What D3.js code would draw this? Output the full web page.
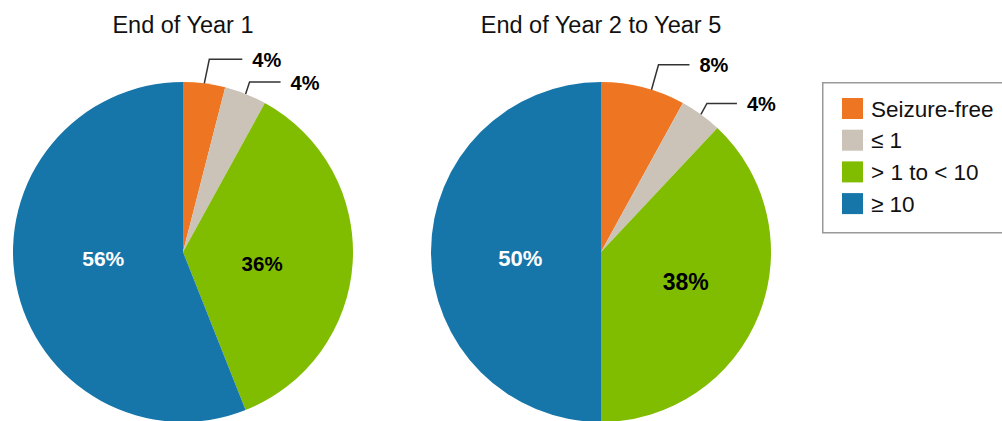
<!DOCTYPE html>
<html>
<head>
<meta charset="utf-8">
<script src="https://cdn.jsdelivr.net/npm/d3@7"></script>
<style>
  html, body { margin: 0; padding: 0; background: #fff; }
  svg { display: block; font-family: "Liberation Sans", Arial, sans-serif; }
</style>
</head>
<body>
<svg id="chart" width="1002" height="421"></svg>
<script>
// Seizure frequency categories and the share of patients in each period
const categories = ["Seizure-free", "\u2264 1", "> 1 to < 10", "\u2265 10"];
const colors = ["#EE7623", "#CBC2B8", "#80BC00", "#1776A9"];
const titles = ["End of Year 1", "End of Year 2 to Year 5"];
const year1Values = [4, 4, 36, 56];
const year2to5Values = [8, 4, 38, 50];

const svg = d3.select("#chart");
const radius = 170;
const centers = [[183, 252], [601, 252]];

// Callout styling for the two small slices in each pie
const callouts = [
  [ {frac: 0.5, elbow: [5, -24], run: 33}, {frac: 0.5, elbow: [4, -12], run: 31} ],
  [ {frac: 0.6, elbow: [7, -25], run: 31}, {frac: 0.5, elbow: [6, -11], run: 30} ]
];
// Inside-label placement: angle nudge (deg), radius, font size, colour
const insideLabels = [
  [null, null, {da: 5, r: 80, size: 20.5, fill: "#000"}, {da: 6, r: 80, size: 21, fill: "#fff"}],
  [null, null, {da: -2, r: 90, size: 23, fill: "#000"}, {da: -4, r: 81, size: 22, fill: "#fff"}]
];

const pie = d3.pie().sort(null).value(d => d);
const arc = d3.arc().innerRadius(0).outerRadius(radius);

[year1Values, year2to5Values].forEach((values, pi) => {
  const [cx, cy] = centers[pi];
  const g = svg.append("g").attr("transform", `translate(${cx},${cy})`);
  const arcs = pie(values);

  g.selectAll("path.slice")
    .data(arcs)
    .join("path")
    .attr("class", "slice")
    .attr("d", arc)
    .attr("fill", (d, i) => colors[i]);

  // Title above each pie
  svg.append("text")
    .attr("x", cx)
    .attr("y", 33)
    .attr("text-anchor", "middle")
    .attr("font-size", 23.5)
    .attr("fill", "#111")
    .text(titles[pi]);

  arcs.forEach((d, i) => {
    const label = values[i] + "%";
    if (i < 2) {
      const c = callouts[pi][i];
      const a = d.startAngle + (d.endAngle - d.startAngle) * c.frac;
      const x0 = Math.sin(a) * radius, y0 = -Math.cos(a) * radius;
      const x1 = x0 + c.elbow[0], y1 = y0 + c.elbow[1];
      const x2 = x1 + c.run;
      g.append("polyline")
        .attr("points", `${x0},${y0} ${x1},${y1} ${x2},${y1}`)
        .attr("fill", "none")
        .attr("stroke", "#333")
        .attr("stroke-width", 1.5);
      g.append("text")
        .attr("x", x2 + 10)
        .attr("y", y1)
        .attr("dy", "0.38em")
        .attr("font-size", 20)
        .attr("font-weight", "bold")
        .attr("fill", "#000")
        .text(label);
    } else {
      const s = insideLabels[pi][i];
      const a = (d.startAngle + d.endAngle) / 2 + s.da * Math.PI / 180;
      g.append("text")
        .attr("x", Math.sin(a) * s.r)
        .attr("y", -Math.cos(a) * s.r)
        .attr("dy", "0.36em")
        .attr("text-anchor", "middle")
        .attr("font-size", s.size)
        .attr("font-weight", "bold")
        .attr("fill", s.fill)
        .text(label);
    }
  });
});

// Legend (its frame runs past the right edge of the canvas)
const legend = svg.append("g").attr("transform", "translate(822,82)");
legend.append("rect")
  .attr("x", 0.75).attr("y", 0.75)
  .attr("width", 220).attr("height", 150)
  .attr("fill", "#fff")
  .attr("stroke", "#999")
  .attr("stroke-width", 1.5);
const rows = legend.selectAll("g.row")
  .data(categories)
  .join("g")
  .attr("class", "row")
  .attr("transform", (d, i) => `translate(20,${16 + i * 31.7})`);
rows.append("rect")
  .attr("width", 21).attr("height", 21)
  .attr("fill", (d, i) => colors[i]);
rows.append("text")
  .attr("x", 29)
  .attr("y", 10.5)
  .attr("dy", "0.36em")
  .attr("font-size", 22.5)
  .attr("fill", "#111")
  .text(d => d);
</script>
</body>
</html>
